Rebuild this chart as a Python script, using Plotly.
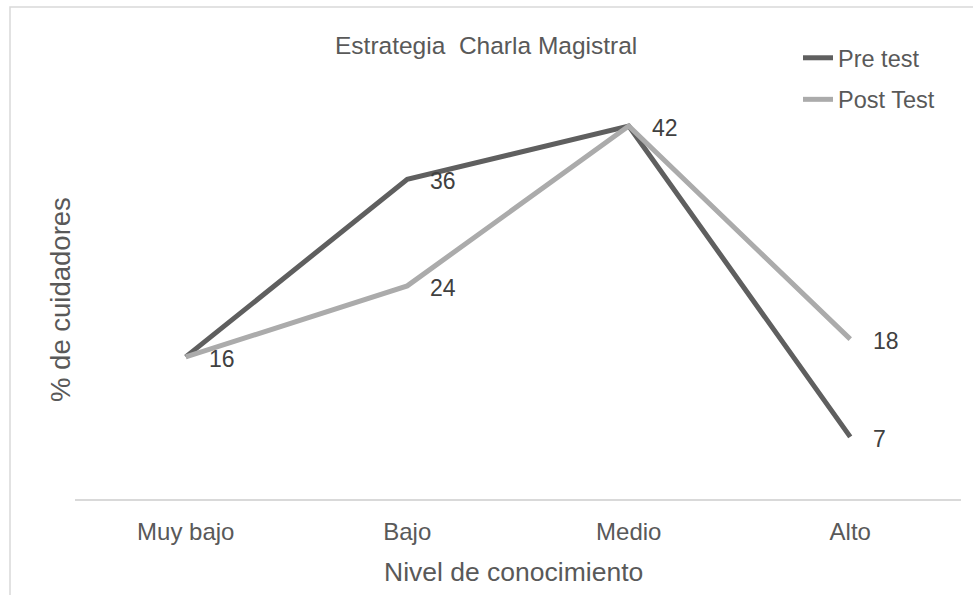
import plotly.graph_objects as go

categories = ["Muy bajo", "Bajo", "Medio", "Alto"]
pre_test = [16, 36, 42, 7]
post_test = [16, 24, 42, 18]
pre_labels = ["", "36", "42", "7"]
post_labels = ["16", "24", "", "18"]

FONT = "Liberation Sans, Arial, sans-serif"
W, H = 973, 595
ML, MR, MT, MB = 75, 12, 55, 96
PW, PH = W - ML - MR, H - MT - MB

def px_x(p):
    return (p - ML) / PW

def px_y(p):
    return (H - MB - p) / PH

fig = go.Figure()
fig.add_trace(go.Scatter(x=categories, y=pre_test, mode="lines", name="Pre test",
                         line=dict(color="#5f5f5f", width=5), legendgroup="a"))
fig.add_trace(go.Scatter(x=categories, y=post_test, mode="lines", name="Post Test",
                         line=dict(color="#ababab", width=5), legendgroup="b"))

annotations = []
for cat, val, lab in zip(categories, pre_test, pre_labels):
    if lab:
        annotations.append(dict(x=cat, y=val, text=lab, showarrow=False, xanchor="left",
                                xshift=21, yshift=-2, font=dict(family=FONT, size=23, color="#404040")))
for cat, val, lab in zip(categories, post_test, post_labels):
    if lab:
        annotations.append(dict(x=cat, y=val, text=lab, showarrow=False, xanchor="left",
                                xshift=21, yshift=-2, font=dict(family=FONT, size=23, color="#404040")))

annotations.append(dict(xref="paper", yref="paper", x=px_x(486), y=px_y(45), text="Estrategia  Charla Magistral",
                        showarrow=False, xanchor="center", yanchor="middle",
                        font=dict(family=FONT, size=24.5, color="#595959")))
annotations.append(dict(xref="paper", yref="paper", x=px_x(513), y=px_y(572), text="Nivel de conocimiento",
                        showarrow=False, xanchor="center", yanchor="middle",
                        font=dict(family=FONT, size=26.5, color="#595959")))
annotations.append(dict(xref="paper", yref="paper", x=px_x(60), y=px_y(300), text="% de cuidadores",
                        showarrow=False, xanchor="center", yanchor="middle", textangle=-90,
                        font=dict(family=FONT, size=27.5, color="#595959")))

fig.update_layout(
    width=W, height=H,
    margin=dict(l=ML, r=MR, t=MT, b=MB),
    paper_bgcolor="white", plot_bgcolor="white",
    font=dict(family=FONT, color="#595959"),
    showlegend=True,
    legend=dict(x=px_x(798), y=px_y(36), xanchor="left", yanchor="top",
                font=dict(family=FONT, size=23.5, color="#595959"),
                bgcolor="rgba(0,0,0,0)", tracegroupgap=8, traceorder="grouped"),
    annotations=annotations,
    shapes=[dict(type="rect", xref="paper", yref="paper",
                 x0=px_x(10), x1=px_x(990), y0=px_y(620), y1=px_y(7),
                 line=dict(color="#d9d9d9", width=1.5), fillcolor="rgba(0,0,0,0)", layer="below")],
)
fig.update_xaxes(type="category", range=[-0.5, 3.5], showline=True, linecolor="#d9d9d9", linewidth=1.5,
                 showgrid=False, zeroline=False, ticks="", ticklabelstandoff=10,
                 tickfont=dict(family=FONT, size=24, color="#595959"))
fig.update_yaxes(range=[0, 50], visible=False, showgrid=False, zeroline=False)

fig.write_html("out.html")
